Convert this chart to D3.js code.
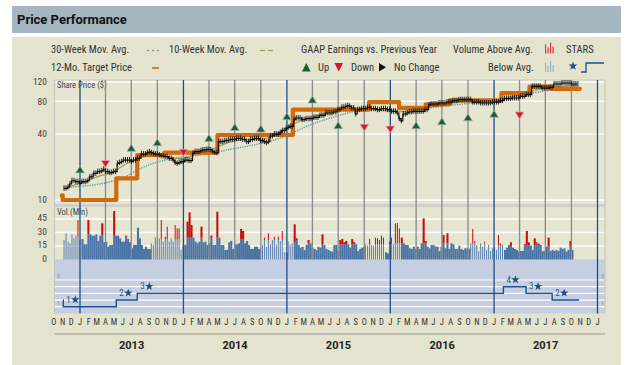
<!DOCTYPE html>
<html><head><meta charset="utf-8">
<script src="https://cdn.jsdelivr.net/npm/d3@7"></script>
<style>body{margin:0;background:#fff}svg{display:block}</style>
</head><body><svg id="c" width="626" height="365"></svg>
<script>
// ---------------- DATA ----------------
const priceStart = "2012-11-04"; // weekly closes
const priceClose = [12.8,12.8,13.1,14.0,15.0,15.0,14.7,14.7,14.2,14.7,14.7,14.7,15.0,16.3,16.3,17.5,17.5,18.2,18.2,18.5,19.1,18.2,18.2,17.8,17.8,18.2,18.2,21.6,22.0,22.4,
23.2,23.2,23.2,23.2,22.4,23.2,23.2,24.0,24.0,26.3,26.3,26.3,27.1,27.5,27.1,26.7,26.3,26.3,25.8,25.3,25.3,24.9,24.9,24.0,24.0,23.2,22.0,21.6,22.0,22.4,
22.4,23.2,23.2,22.9,22.9,26.7,27.7,27.7,27.7,28.3,28.7,28.7,29.1,29.1,28.7,27.7,27.1,27.1,34.2,34.2,34.2,34.9,34.9,35.4,35.9,35.9,35.9,36.6,36.6,36.6,
35.9,35.9,34.2,34.2,35.9,35.9,36.6,36.6,36.6,34.9,34.9,34.2,33.4,34.2,38.5,38.5,40.1,40.1,40.1,41.3,43.1,43.1,45.2,46.2,47.2,47.2,54.3,56.2,56.2,56.2,
54.3,54.3,55.4,55.4,55.4,55.4,57.0,57.0,57.0,59.5,59.5,59.5,62.5,62.5,62.5,62.5,63.8,63.8,67.0,67.0,70.4,70.4,71.9,73.0,71.9,69.4,69.4,61.2,67.0,67.0,
68.4,68.4,68.4,70.4,70.4,68.4,68.4,68.4,67.0,67.0,68.4,68.4,68.4,67.0,67.0,64.7,64.7,64.7,62.5,55.4,53.0,61.2,61.2,62.5,63.8,63.8,64.7,64.7,64.7,64.7,
64.7,64.7,67.0,67.0,74.4,75.5,75.5,75.5,75.5,77.1,77.1,77.1,77.1,78.7,78.7,78.7,81.0,81.0,81.0,82.7,82.7,82.7,82.7,82.7,82.7,82.7,78.7,78.7,78.7,78.7,
77.1,77.1,77.1,77.1,77.1,77.1,78.7,78.7,78.7,78.7,81.0,81.0,84.5,84.5,84.5,84.5,85.7,85.7,85.7,85.7,88.7,88.7,88.7,91.9,91.9,91.9,109.5,109.5,109.5,109.5,
109.5,105.7,105.7,105.7,105.7,107.2,107.2,115.0,115.0,115.0,115.0,117.5,117.5,117.5,117.5,117.5,115.0,115.0,115.0,115.0];

const targetDates = ["2012-10-29","2012-11-01","2013-05-09","2013-07-22","2013-10-26","2014-05-01","2015-01-22","2015-10-18","2016-02-01","2016-05-05","2016-07-29","2017-01-27","2017-05-06","2017-07-21","2017-10-31"];
const targetValues = [11,10,15.8,25.8,27.1,39.3,67,78.6,69.5,75,81.6,95,109,104,104];

const ma10Dates = ["2012-11-20","2013-01-14","2013-03-12","2013-04-24","2013-06-12","2013-07-30","2013-09-27","2013-11-22","2014-01-08","2014-02-22","2014-04-08","2014-05-14","2014-06-30","2014-09-07","2014-10-24","2014-12-08","2014-12-27","2015-02-11","2015-04-21","2015-06-30","2015-09-07","2015-11-15","2016-01-23","2016-03-21","2016-05-19","2016-07-27","2016-10-04","2016-12-13","2017-02-20","2017-04-19","2017-06-16","2017-10-23"];
const ma10Values = [13.2,14.4,16.9,17.5,21.6,24.9,25.8,24.1,23.6,27.1,28.6,31.8,35.4,35.4,35.9,42.1,45.5,53.1,59.5,67,69.4,67,63.6,64.8,70.4,77.1,80,78.6,85.8,95.1,105.8,112];

const ma30Dates = ["2012-11-20","2013-01-28","2013-03-28","2013-05-27","2013-07-12","2013-08-27","2013-10-24","2013-12-20","2014-02-16","2014-04-14","2014-06-10","2014-08-08","2014-10-05","2014-12-01","2015-01-11","2015-03-22","2015-06-01","2015-08-20","2015-10-27","2016-01-05","2016-03-14","2016-05-23","2016-08-10","2016-10-28","2017-01-15","2017-04-04","2017-06-25","2017-08-21"];
const ma30Values = [13.1,13.4,14.2,15.5,18.2,20.9,23.2,24.9,25.4,26.7,29.1,30.7,33,35.9,40,48.9,56,64.8,67,67,67,69.4,74.5,77,80.8,91.8,98.7,104.5];

const earnDates = ["2013-01-01","2013-04-01","2013-07-01","2013-10-01","2014-01-01","2014-04-01","2014-07-01","2014-10-01","2015-01-01","2015-04-01","2015-07-01","2015-10-01","2016-01-01","2016-04-01","2016-07-01","2016-10-01","2017-01-01","2017-04-01"];
const earnLevel = [18.8,21.6,29.7,33.4,27.3,36.6,46.0,44.6,57.8,82.1,47.8,46.3,44.6,47.8,52.0,56.5,60.8,59.9];
const earnDir = ["up","down","up","up","down","up","up","up","up","up","up","down","down","up","up","up","up","down"];

const starDates = ["2012-11-02","2012-11-03","2013-05-09","2013-07-22","2017-02-03","2017-04-24","2017-07-25","2017-10-28"];
const starValues = [2,1,2,3,4,3,2,2];

const volStart = "2012-11-04";
const volBlue = [21.7,29.1,19.8,18.0,28.0,23.5,26.5,25.4,21.7,22.8,16.9,16.9,28.0,28.0,26.5,26.5,28.0,20.6,26.5,26.5,19.1,19.8,14.3,16.1,16.1,26.5,26.5,26.5,23.5,19.8,19.8,25.4,22.8,19.1,12.4,16.1,16.1,35.4,23.5,16.1,11.7,14.3,11.7,11.7,18.0,16.1,23.5,21.7,23.5,22.4,19.8,22.4,22.4,19.8,23.5,19.8,22.4,22.4,22.4,10.6,16.1,16.1,24.3,24.3,24.3,24.3,19.8,18.0,19.8,24.3,19.1,19.8,16.1,18.0,24.3,16.1,16.1,24.3,23.5,16.1,16.1,10.6,10.6,19.1,20.6,11.7,16.9,16.9,18.0,22.8,22.8,18.0,20.6,16.1,11.7,11.7,14.3,14.3,11.7,13.2,16.1,21.7,14.3,21.7,16.9,21.7,21.7,16.1,21.7,20.6,21.7,8.0,8.0,19.8,16.1,18.0,19.1,21.7,16.1,13.2,14.3,10.6,16.1,18.0,18.0,13.2,11.7,10.6,14.3,13.2,16.9,16.1,11.7,10.6,9.4,8.7,16.1,16.1,9.4,16.9,16.9,16.9,16.9,16.9,13.2,16.9,16.9,16.9,9.4,11.7,13.2,14.3,16.9,15.4,16.9,16.1,15.4,16.9,16.9,16.9,16.9,16.9,8.0,6.9,16.9,16.9,16.9,18.0,18.0,18.0,18.0,18.0,16.1,16.1,12.4,11.7,14.3,11.7,14.3,11.7,18.0,18.0,18.0,14.3,12.4,16.1,16.1,14.3,14.3,9.4,14.3,18.0,12.4,18.0,11.7,18.0,16.9,11.7,11.7,15.4,11.7,10.6,12.4,12.4,11.7,18.0,18.0,18.0,16.1,9.4,18.0,14.3,18.0,10.6,16.1,9.4,12.4,13.2,10.6,16.1,16.1,16.1,10.6,13.2,16.1,16.1,13.2,11.7,10.6,8.7,9.4,9.4,16.1,15.4,15.4,15.4,10.6,15.4,18.0,16.1,16.1,9.4,9.4,14.3,14.3,9.4,10.6,9.4,10.6,9.4,13.2,11.7,12.4,8.7,10.6,14.3,10.6];
const volRed = {7:43.9,12:43.9,19:40.2,25:53.9,31:26.5,46:24.3,49:43.9,51:25.4,52:36.5,56:38.3,57:34.6,58:34.6,62:42.0,63:52.4,64:38.3,69:36.5,74:26.5,77:53.1,78:24.3,89:33.9,90:31.7,101:24.3,103:29.1,106:25.4,108:25.4,110:31.7,116:39.1,117:23.5,123:21.7,130:28.0,139:21.7,140:22.8,141:19.1,142:20.6,145:22.8,146:19.1,154:22.8,157:24.3,158:23.5,159:21.7,160:26.5,161:24.3,164:19.8,165:24.3,167:40.2,168:40.6,169:34.6,170:24.3,181:45.7,182:20.6,191:27.2,193:29.1,206:33.9,207:20.6,212:19.8,219:27.2,220:17.6,225:19.1,232:16.9,233:31.7,234:19.1,237:23.5,238:19.1,239:17.6,244:24.3,255:20.6};
const thinWeeks = [[0,8],[44,59],[99,111],[113,115],[152,161],[164,169],[205,221]];

const priceTicks = [10,40,80,120];
const volTicks = [0,15,30,45];
const monthLetters = ["J","F","M","A","M","J","J","A","S","O","N","D"];
const yearLabels = ["2013","2014","2015","2016","2017"];

// ---------------- CHART ----------------
const FONT = "'Liberation Sans Narrow','Roboto Condensed','Liberation Sans',Arial,sans-serif";
const parse = d3.timeParse("%Y-%m-%d");
const svg = d3.select("#c");
const L = 54.5, R = 605;
const x = d3.scaleTime().domain([new Date(2013,0,1), new Date(2018,0,1)]).range([80,597.5]);
const yP = d3.scaleLog().domain([10,120]).range([200,82]);
const yV = d3.scaleLinear().domain([0,45]).range([259.5,219]);
const yS = d3.scaleLinear().domain([1,5]).range([306.7,280]);

svg.append("rect").attr("width",626).attr("height",365).attr("fill","#fff");
svg.append("rect").attr("x",12).attr("y",6).attr("width",609).attr("height",27).attr("fill","#a4b6c0");
svg.append("text").attr("x",17).attr("y",24).attr("font-family","Roboto,'Liberation Sans',Arial,sans-serif")
  .attr("font-weight","bold").attr("font-size",13).attr("fill","#111").text("Price Performance");
svg.append("rect").attr("x",12).attr("y",37).attr("width",609).attr("height",328).attr("fill","#e4e3cd");

// legend
const lg = svg.append("g").attr("font-family",FONT).attr("font-size",10.5).attr("fill","#333");
const r1 = 52.5, r2 = 71;
lg.append("text").attr("x",51).attr("y",r1).text("30-Week Mov. Avg.");
[148,153,158].forEach(cx=>lg.append("circle").attr("cx",cx).attr("cy",r1-2).attr("r",0.7).attr("fill","#555"));
lg.append("text").attr("x",169).attr("y",r1).text("10-Week Mov. Avg.");
lg.append("line").attr("x1",260).attr("x2",265).attr("y1",r1-2).attr("y2",r1-2).attr("stroke","#a39f5a").attr("stroke-width",1.3);
lg.append("line").attr("x1",268).attr("x2",273).attr("y1",r1-2).attr("y2",r1-2).attr("stroke","#a39f5a").attr("stroke-width",1.3);
lg.append("text").attr("x",301).attr("y",r1).text("GAAP Earnings vs. Previous Year");
lg.append("text").attr("x",453).attr("y",r1).text("Volume Above Avg.");
lg.append("text").attr("x",566).attr("y",r1).text("STARS");
lg.append("text").attr("x",51).attr("y",r2).text("12-Mo. Target Price");
lg.append("line").attr("x1",152).attr("x2",159).attr("y1",r2-3).attr("y2",r2-3).attr("stroke","#d26a0a").attr("stroke-width",1.6);
lg.append("path").attr("d",`M302,${r2+0.5}L306.3,${r2-8}L310.6,${r2+0.5}Z`).attr("fill","#1e5b3c");
lg.append("text").attr("x",318).attr("y",r2).text("Up");
lg.append("path").attr("d",`M334.5,${r2-8}L343,${r2-8}L338.7,${r2+0.5}Z`).attr("fill","#d21a2e");
lg.append("text").attr("x",351).attr("y",r2).text("Down");
lg.append("path").attr("d",`M379,${r2-8}L386,${r2-3.7}L379,${r2+0.5}Z`).attr("fill","#111");
lg.append("text").attr("x",394).attr("y",r2).text("No Change");
lg.append("text").attr("x",488).attr("y",r2).text("Below Avg.");
[[545,9],[547.5,6],[550,11],[552.5,7]].forEach(([bx,h])=>{
  lg.append("rect").attr("x",bx).attr("y",r1+1-h).attr("width",1.2).attr("height",h).attr("fill","#d43a3a");
  lg.append("rect").attr("x",bx).attr("y",r2+1-h).attr("width",1.2).attr("height",h).attr("fill","#9ab4cf");
});
function starPath(cx,cy,ro,ri){let p=[];for(let i=0;i<10;i++){const r=i%2?ri:ro;const a=-Math.PI/2+i*Math.PI/5;p.push([cx+r*Math.cos(a),cy+r*Math.sin(a)]);}return "M"+p.map(d=>d.join(",")).join("L")+"Z";}
lg.append("path").attr("d",starPath(573,r2-5,4.6,1.9)).attr("fill","#1f4f8f");
lg.append("path").attr("d",`M581,${r2+1}H586V${r2-8}H604`).attr("fill","none").attr("stroke","#1f4f8f").attr("stroke-width",1.3);

// panels
svg.append("rect").attr("x",L).attr("y",80).attr("width",R-L).attr("height",124).attr("fill","#e6e5d1");
svg.append("rect").attr("x",L).attr("y",204).attr("width",R-L).attr("height",3).attr("fill","#cfcfcc");
svg.append("rect").attr("x",L).attr("y",207).attr("width",R-L).attr("height",52.5).attr("fill","#e6e5d1");
svg.append("rect").attr("x",L).attr("y",259.5).attr("width",R-L).attr("height",54).attr("fill","#c5cfe1");

svg.append("g").selectAll("line").data(priceTicks).join("line")
  .attr("x1",L).attr("x2",R).attr("y1",d=>yP(d)).attr("y2",d=>yP(d)).attr("stroke","#fff").attr("stroke-width",1.4);
svg.append("g").selectAll("line").data(volTicks.slice(1)).join("line")
  .attr("x1",L).attr("x2",R).attr("y1",d=>yV(d)).attr("y2",d=>yV(d)).attr("stroke","#fff").attr("stroke-width",1.4);
svg.append("g").selectAll("line").data([1,2,3,4,5]).join("line")
  .attr("x1",L).attr("x2",R).attr("y1",d=>yS(d)).attr("y2",d=>yS(d)).attr("stroke","#fff").attr("stroke-width",1.2);

svg.append("line").attr("x1",L).attr("x2",R).attr("y1",80).attr("y2",80).attr("stroke","#c8c8c2").attr("stroke-width",1.2);
svg.append("line").attr("x1",L).attr("x2",L).attr("y1",80).attr("y2",313.5).attr("stroke","#c8c8c2").attr("stroke-width",1.2);
svg.append("line").attr("x1",R).attr("x2",R).attr("y1",80).attr("y2",313.5).attr("stroke","#c8c8c2").attr("stroke-width",1.2);

const ax = svg.append("g").attr("font-family",FONT).attr("font-size",9.5).attr("fill","#444").attr("text-anchor","end");
ax.selectAll(".pt").data(priceTicks).join("text").attr("x",47).attr("y",d=>yP(d)+3.3).text(d=>d);
ax.selectAll(".vt").data(volTicks).join("text").attr("x",47).attr("y",d=>yV(d)+2).text(d=>d);
svg.append("text").attr("x",57).attr("y",88).attr("font-family",FONT).attr("font-size",8.5).attr("fill","#444").text("Share Price ($)");
svg.append("text").attr("x",57).attr("y",214.5).attr("font-family",FONT).attr("font-size",8.5).attr("fill","#444").text("Vol.(Mln)");
const sl = svg.append("g").attr("font-family",FONT).attr("font-size",6).attr("fill","#888");
[[57,276,"5"],[57,302.5,"1"],[601,276,"5"],[601,302.5,"1"]].forEach(([tx,ty,t])=>sl.append("text").attr("x",tx).attr("y",ty+2).text(t));

// volume bars
const v0 = parse(volStart);
const isThin = i => thinWeeks.some(([a,b])=>i>=a&&i<=b);
const vb = svg.append("g");
volBlue.forEach((v,i)=>{
  const xx = x(d3.timeDay.offset(v0, 7*i));
  const thin = isThin(i);
  const w = thin ? 1 : 2.05;
  vb.append("rect").attr("x",xx).attr("y",yV(v)).attr("width",w).attr("height",yV(0)-yV(v)).attr("fill",thin?"#5a80b2":"#4a74a5");
  if (volRed[i] && volRed[i] > v) vb.append("rect").attr("x",xx).attr("y",yV(volRed[i])).attr("width",w).attr("height",yV(v)-yV(volRed[i])).attr("fill","#cc0a0a");
});

// vertical quarter lines
const quarters = d3.timeMonth.every(3).range(new Date(2013,0,1), new Date(2018,0,2));
svg.append("g").selectAll("line").data(quarters).join("line")
  .attr("x1",d=>x(d)).attr("x2",d=>x(d)).attr("y1",80)
  .attr("y2",d=>d.getMonth()===0?313.5:259.5)
  .attr("stroke",d=>d.getMonth()===0?"#1f4e86":"#8a8a8a").attr("stroke-width",1.3);

// moving averages
const ma30 = ma30Dates.map((d,i)=>[parse(d),ma30Values[i]]);
const ma10 = ma10Dates.map((d,i)=>[parse(d),ma10Values[i]]);
const lineG = d3.line().x(d=>x(d[0])).y(d=>yP(d[1])).curve(d3.curveBasis);
svg.append("path").attr("d",lineG(ma30)).attr("fill","none").attr("stroke","#5c9ea0").attr("stroke-width",1.4).attr("stroke-dasharray","1.3,1.1");
svg.append("path").attr("d",lineG(ma10)).attr("fill","none").attr("stroke","#a39f5a").attr("stroke-width",1.3);

// target price
const tgt = targetDates.map((d,i)=>[parse(d),targetValues[i]]);
svg.append("path").attr("d",d3.line().x(d=>x(d[0])).y(d=>yP(d[1])).curve(d3.curveStepAfter)(tgt))
  .attr("fill","none").attr("stroke","#d06a0a").attr("stroke-width",4.2).attr("stroke-linejoin","round").attr("stroke-linecap","round");

// price (weekly HLC-style)
const p0 = parse(priceStart);
const pr = priceClose.map((v,i)=>[d3.timeDay.offset(p0,7*i),v]);
svg.append("path").attr("d",d3.line().x(d=>x(d[0])).y(d=>yP(d[1])).curve(d3.curveStepAfter)(pr))
  .attr("fill","none").attr("stroke","#111").attr("stroke-width",1.2);
svg.append("g").selectAll("line").data(pr).join("line")
  .attr("x1",d=>x(d[0])+0.5).attr("x2",d=>x(d[0])+0.5).attr("y1",d=>yP(d[1])-3).attr("y2",d=>yP(d[1])+2.5)
  .attr("stroke","#111").attr("stroke-width",0.9);

// earnings triangles
const eg = svg.append("g");
earnDates.forEach((d,i)=>{
  const cx = x(parse(d)), cy = yP(earnLevel[i]);
  const p = earnDir[i]==="up" ? `M${cx},${cy-4}L${cx+4.3},${cy+3}L${cx-4.3},${cy+3}Z` : `M${cx-4.3},${cy-3}L${cx+4.3},${cy-3}L${cx},${cy+4}Z`;
  eg.append("path").attr("d",p).attr("fill",earnDir[i]==="up"?"#1e5b3c":"#d21a2e")
    .attr("stroke",earnDir[i]==="up"?"#9fb3a6":"#e8a0a8").attr("stroke-width",0.8);
});

// stars
const st = starDates.map((d,i)=>[parse(d),starValues[i]]);
svg.append("path").attr("d",d3.line().x(d=>x(d[0])).y(d=>yS(d[1])).curve(d3.curveStepAfter)(st))
  .attr("fill","none").attr("stroke","#1f4f8f").attr("stroke-width",1.4);
const sg = svg.append("g");
st.forEach((d,i)=>{
  if (i===0 || i===st.length-1) return;
  const cx = x(d[0]) + 3, cy = yS(d[1]) - 7;
  sg.append("text").attr("x",cx).attr("y",cy+3).attr("font-family",FONT).attr("font-size",9).attr("fill","#2a5590").text(d[1]);
  sg.append("path").attr("d",starPath(cx+9,cy,4.4,1.8)).attr("fill","#1f4f8f");
});

// month labels
const months = d3.timeMonth.range(new Date(2012,9,1), new Date(2018,0,2));
svg.append("g").selectAll("text").data(months).join("text")
  .attr("x",d=>x(d)).attr("y",324.5).attr("text-anchor","middle").attr("font-family",FONT)
  .attr("font-size",8.5).attr("fill","#333").text(d=>monthLetters[d.getMonth()]);
svg.append("line").attr("x1",L).attr("x2",R).attr("y1",334).attr("y2",334).attr("stroke","#9a9a95").attr("stroke-width",1);
svg.append("g").selectAll("text").data(yearLabels).join("text")
  .attr("x",(d)=>x(new Date(+d,6,2))).attr("y",348.5).attr("text-anchor","middle")
  .attr("font-family","Roboto,'Liberation Sans',Arial,sans-serif").attr("font-weight","bold").attr("font-size",11).attr("fill","#222").text(d=>d);
</script></body></html>
